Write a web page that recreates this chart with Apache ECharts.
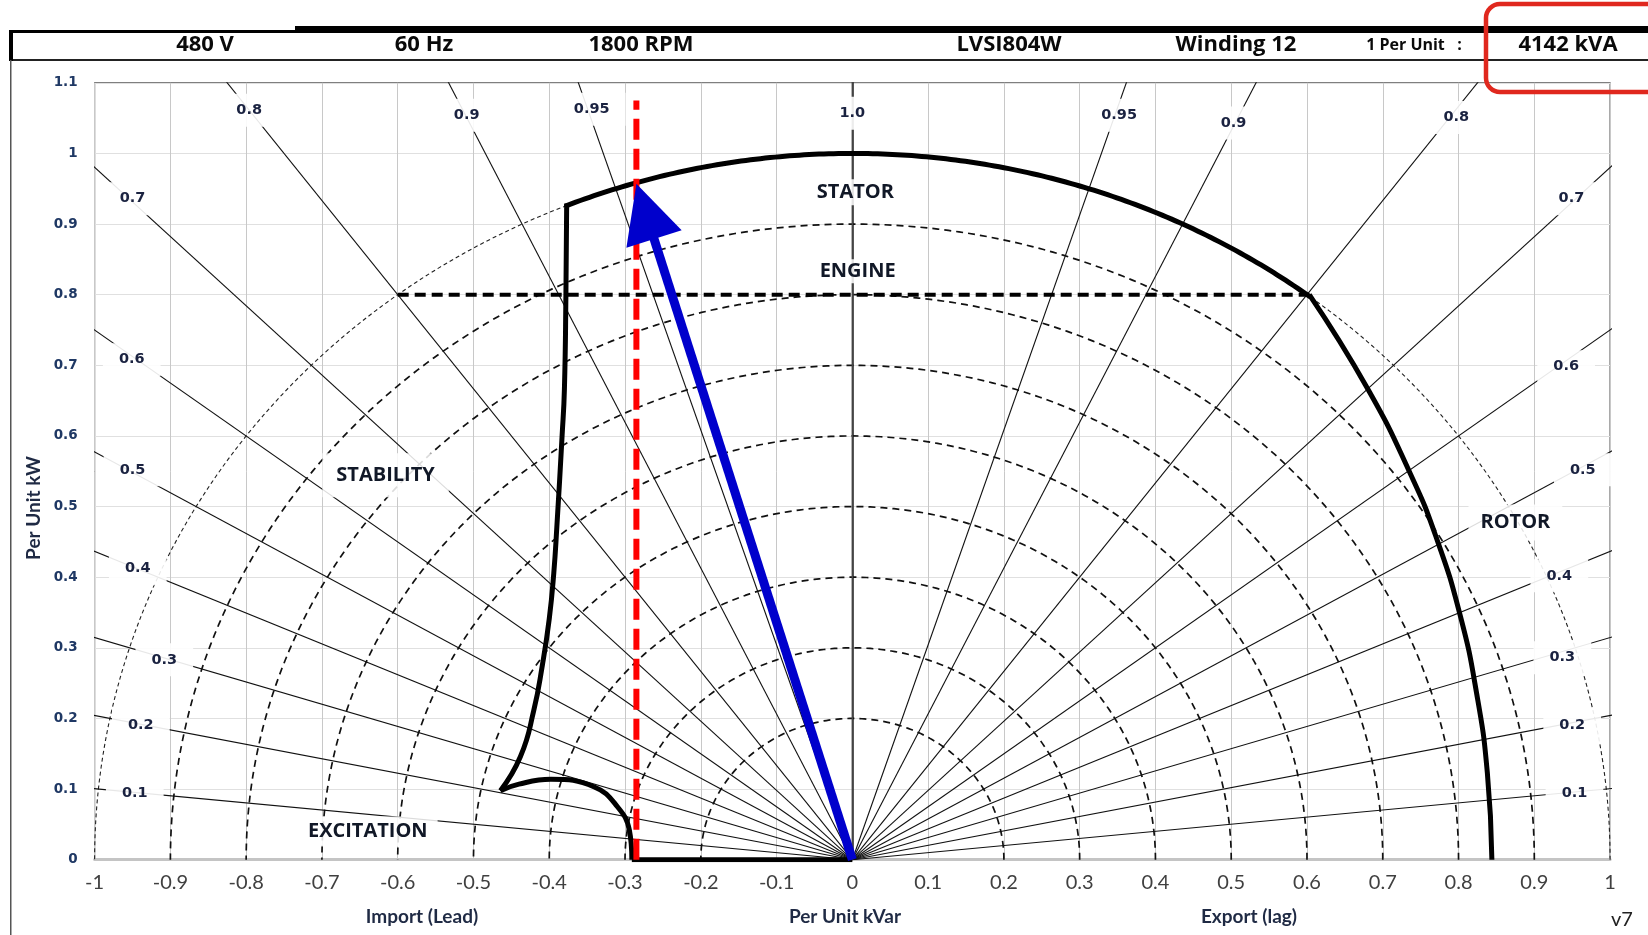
<!DOCTYPE html>
<html><head><meta charset="utf-8">
<script src="https://cdn.jsdelivr.net/npm/echarts@6/dist/echarts.min.js"></script>
<style>html,body{margin:0;padding:0;background:#fff}#c{width:1648px;height:935px}</style>
</head><body><div id="c"></div>
<script>
// ---------- data ----------
const headerTexts = ['480 V', '60 Hz', '1800 RPM', 'LVSI804W', 'Winding 12', '1 Per Unit   :', '4142 kVA'];
const xAxisTitles = ['Import (Lead)', 'Per Unit kVar', 'Export (lag)'];
const yAxisTitle = 'Per Unit kW';
const versionText = 'v7';

const xRange = [-1, 1];
const yRange = [0, 1.1];
const tickStep = 0.1;

const arcRadii = [0.2, 0.3, 0.4, 0.5, 0.6, 0.7, 0.8, 0.9];
const outerArcRadius = [1.0];

const pfValues = [0.1, 0.2, 0.3, 0.4, 0.5, 0.6, 0.7, 0.8, 0.9, 0.95];
const pfLabelText = ['0.1', '0.2', '0.3', '0.4', '0.5', '0.6', '0.7', '0.8', '0.9', '0.95'];
const pfLabelLeft = [[-0.947, 0.094], [-0.939, 0.19], [-0.908, 0.283], [-0.943, 0.412], [-0.950, 0.552], [-0.951, 0.708], [-0.950, 0.936], [-0.796, 1.061], [-0.509, 1.054], [-0.344, 1.0625]];
const pfLabelRight = [[0.953, 0.094], [0.950, 0.19], [0.937, 0.286], [0.933, 0.402], [0.964, 0.552], [0.942, 0.698], [0.949, 0.936], [0.797, 1.051], [0.503, 1.043], [0.352, 1.054]];
const unityLabelText = '1.0';
const unityLabelPos = [0, 1.057];

const statorRadius = 1.0;
const statorEndsKvar = [-0.377, 0.603];
const engineLine = [[-0.6, 0.8], [0.603, 0.8]];
const rotorCurve = [[0.603, 0.80], [0.681, 0.665], [0.737, 0.545], [0.770, 0.458], [0.802, 0.3465], [0.824, 0.2346], [0.838, 0.123], [0.844, 0]];
const stabilityCurve = [[-0.377, 0.929], [-0.378, 0.80], [-0.380, 0.666], [-0.383, 0.601], [-0.390, 0.471], [-0.394, 0.406], [-0.400, 0.341], [-0.409, 0.276], [-0.4205, 0.211], [-0.438, 0.146], [-0.4645, 0.0977]];
const excitationCurve = [[-0.4645, 0.0977], [-0.44, 0.107], [-0.398, 0.1138], [-0.3405, 0.103], [-0.31, 0.075], [-0.2943, 0.042], [-0.291, 0]];
const leadFloor = [[-0.291, 0], [0, 0]];
const limitKvar = -0.285;
const limitTop = 1.075;
const operatingPoint = [-0.285, 0.957];

const regionLabels = ['STATOR', 'ENGINE', 'STABILITY', 'ROTOR', 'EXCITATION'];
const regionLabelPos = [[0.004, 0.945], [0.007, 0.833], [-0.616, 0.5445], [0.875, 0.4776], [-0.6395, 0.040]];

// ---------- layout ----------
const headerX = [205, 424, 641, 1009, 1236, 1414, 1568];
const headerY = 45;
const xTitleX = [422, 845, 1249];
const regionPad = [[3, 6], [2, 6], [12, 14], [8, 12], [5, 10]];

const chart = echarts.init(document.getElementById('c'), null, {width: 1648, height: 935});

function arc(r, a0, a1, n) {
  const pts = [];
  for (let i = 0; i <= n; i++) { const a = a0 + (a1 - a0) * i / n; pts.push([r * Math.cos(a), r * Math.sin(a)]); }
  return pts;
}
const base = {type: 'line', showSymbol: false, symbol: 'none', silent: true, animation: false, clip: true, emphasis: {disabled: true}};
const series = [];

arcRadii.forEach(r => series.push(Object.assign({}, base, {
  z: 2, data: arc(r, 0, Math.PI, 200), lineStyle: {color: '#111', width: 1.7, type: [7, 5]}
})));
outerArcRadius.forEach(r => series.push(Object.assign({}, base, {
  z: 2, data: arc(r, 0, Math.PI, 240), lineStyle: {color: '#222', width: 1.1, type: [4, 3]}
})));

pfValues.forEach(p => {
  const q = Math.sqrt(1 - p * p);
  [-1, 1].forEach(s => series.push(Object.assign({}, base, {
    z: 3, data: [[0, 0], [s * 2 * q, 2 * p]], lineStyle: {color: '#111', width: 1.1}
  })));
});
series.push(Object.assign({}, base, {z: 3, data: [[0, 0], [0, 2]], lineStyle: {color: '#444', width: 1.5}}));

function textSeries(points, texts, styleFn, z) {
  return {
    type: 'custom', z: z, silent: true, animation: false, clip: false,
    data: points,
    renderItem: (params, api) => {
      const c = api.coord([api.value(0), api.value(1)]);
      const st = Object.assign({text: texts[params.dataIndex], align: 'center', verticalAlign: 'middle',
        textAlign: 'center', textVerticalAlign: 'middle'}, styleFn(params.dataIndex));
      return {type: 'text', x: c[0], y: c[1], style: st};
    }
  };
}
const pfPts = pfLabelLeft.concat(pfLabelRight, [unityLabelPos]);
const pfTxt = pfLabelText.concat(pfLabelText, [unityLabelText]);
series.push(textSeries(pfPts, pfTxt, () => ({
  font: 'bold 14.5px "DejaVu Sans"', fill: '#1a2240',
  backgroundColor: 'rgba(255,255,255,0.9)', padding: [9, 16]
}), 5));
series.push(textSeries(regionLabelPos, regionLabels, i => ({
  font: 'bold 20px "Open Sans"', fill: '#111827',
  backgroundColor: 'rgba(255,255,255,0.85)', padding: regionPad[i]
}), 5));

series.push(Object.assign({}, base, {z: 6, data: engineLine, lineStyle: {color: '#000', width: 4, type: [11, 6]}}));
const a0 = Math.acos(statorEndsKvar[1] / statorRadius), a1 = Math.acos(statorEndsKvar[0] / statorRadius);
series.push(Object.assign({}, base, {z: 7, data: arc(statorRadius, a0, a1, 160), lineStyle: {color: '#000', width: 5, cap: 'round', join: 'round'}}));
series.push(Object.assign({}, base, {z: 7, data: rotorCurve, smooth: 0.5, lineStyle: {color: '#000', width: 5, join: 'round'}}));
series.push(Object.assign({}, base, {z: 7, data: stabilityCurve, smooth: 0.5, lineStyle: {color: '#000', width: 5, join: 'round'}}));
series.push(Object.assign({}, base, {z: 7, data: excitationCurve, smooth: 0.45, lineStyle: {color: '#000', width: 5, join: 'round'}}));
series.push(Object.assign({}, base, {z: 7, data: leadFloor, lineStyle: {color: '#000', width: 5}}));
series.push(Object.assign({}, base, {z: 8, data: [[limitKvar, 0], [limitKvar, limitTop]], lineStyle: {color: '#ff0000', width: 6, type: [21, 9]}}));
series.push({
  type: 'custom', z: 9, silent: true, animation: false, clip: false,
  data: [operatingPoint],
  renderItem: (params, api) => {
    const p0 = api.coord([0, 0]);
    const p1 = api.coord([api.value(0), api.value(1)]);
    const dx = p1[0] - p0[0], dy = p1[1] - p0[1];
    const L = Math.hypot(dx, dy), ux = dx / L, uy = dy / L;
    const hl = 58, hw = 29;
    const bx = p1[0] - ux * hl, by = p1[1] - uy * hl;
    const nx = -uy, ny = ux;
    return {type: 'group', children: [
      {type: 'line', shape: {x1: p0[0], y1: p0[1], x2: bx + ux * 4, y2: by + uy * 4}, style: {stroke: '#0000cc', lineWidth: 9}},
      {type: 'polygon', shape: {points: [[p1[0], p1[1]], [bx + nx * hw, by + ny * hw], [bx - nx * hw, by - ny * hw]]}, style: {fill: '#0000cc'}}
    ]};
  }
});

const graphic = [
  {type: 'rect', shape: {x: 10, y: 30, width: 285, height: 3}, style: {fill: '#000'}},
  {type: 'rect', shape: {x: 295, y: 26, width: 1353, height: 7}, style: {fill: '#000'}},
  {type: 'rect', shape: {x: 10, y: 59, width: 1638, height: 2}, style: {fill: '#222'}},
  {type: 'rect', shape: {x: 9, y: 30, width: 4, height: 31}, style: {fill: '#000'}},
  {type: 'rect', shape: {x: 10, y: 60, width: 1.5, height: 875}, style: {fill: '#555'}},
  {type: 'rect', shape: {x: 1486, y: 4, width: 220, height: 88, r: 14}, style: {fill: 'none', stroke: '#e0281e', lineWidth: 4.5}, z: 100}
];
headerTexts.forEach((t, i) => graphic.push({
  type: 'text', x: headerX[i], y: headerY,
  style: {text: t, fill: '#0a0a0a', font: (i === 5 ? 'bold 16px "Open Sans"' : 'bold 22px "Open Sans"'), textAlign: 'center', textVerticalAlign: 'middle'}
}));
xAxisTitles.forEach((t, i) => graphic.push({
  type: 'text', x: xTitleX[i], y: 917,
  style: {text: t, fill: '#1f2a44', font: 'bold 19px Lato', textAlign: 'center', textVerticalAlign: 'middle'}
}));
graphic.push({type: 'text', x: 34, y: 508, rotation: Math.PI / 2,
  style: {text: yAxisTitle, fill: '#1f2a44', font: 'bold 19px Lato', textAlign: 'center', textVerticalAlign: 'middle'}});
graphic.push({type: 'text', x: 1622, y: 920,
  style: {text: versionText, fill: '#222', font: '20px Lato', textAlign: 'center', textVerticalAlign: 'middle'}});

chart.setOption({
  animation: false,
  backgroundColor: '#fff',
  grid: {left: 94.6, right: 37.9, top: 82.8, bottom: 75.3, show: true, borderColor: '#555', borderWidth: 1.2},
  xAxis: {type: 'value', min: xRange[0], max: xRange[1], interval: tickStep,
    axisLine: {onZero: false, lineStyle: {color: '#c4c4c4', width: 3}},
    axisTick: {show: false},
    axisLabel: {color: '#404040', fontFamily: 'Lato', fontSize: 20, margin: 13},
    splitLine: {show: true, lineStyle: {color: '#c8c8c8', width: 1}}},
  yAxis: {type: 'value', min: yRange[0], max: yRange[1], interval: tickStep,
    axisLine: {show: true, lineStyle: {color: '#222', width: 1.5}},
    axisTick: {show: false},
    axisLabel: {color: '#1f3864', fontFamily: 'DejaVu Sans', fontWeight: 'bold', fontSize: 13.5, margin: 17},
    splitLine: {show: true, lineStyle: {color: '#e0e0e0', width: 1}}},
  series: series,
  graphic: graphic
});
</script></body></html>
